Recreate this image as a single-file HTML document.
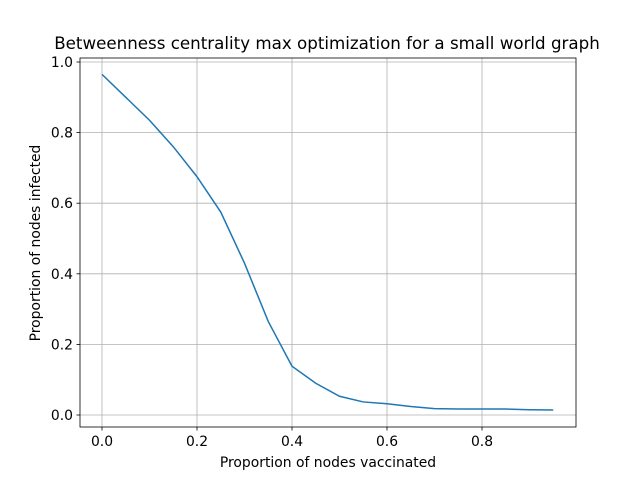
<!DOCTYPE html>
<html><head><meta charset="utf-8"><style>
body{margin:0;background:#fff;}
svg{font-family:"DejaVu Sans","Liberation Sans",sans-serif;}
</style></head><body>
<svg id="chart" width="640" height="480" xmlns="http://www.w3.org/2000/svg">
<rect width="640" height="480" fill="#fff"/>
<g id="grid"></g>
<g id="ticks"></g>
<path id="line" fill="none" stroke="#1f77b4" stroke-width="1.5"/>
<rect x="80" y="58" width="496" height="369" fill="none" stroke="#000" stroke-width="0.8"/>
<text x="327" y="49" font-size="16.7" text-anchor="middle">Betweenness centrality max optimization for a small world graph</text>
<text x="328" y="467" font-size="13.9" text-anchor="middle">Proportion of nodes vaccinated</text>
<text transform="translate(40,243) rotate(-90)" font-size="13.9" text-anchor="middle">Proportion of nodes infected</text>
</svg>
<script>
const xValues=[0,0.05,0.1,0.15,0.2,0.25,0.3,0.35,0.4,0.45,0.5,0.55,0.6,0.65,0.7,0.75,0.8,0.85,0.9,0.95];
const infected=[0.965,0.90,0.835,0.76,0.675,0.575,0.43,0.265,0.138,0.09,0.053,0.037,0.032,0.024,0.018,0.017,0.017,0.017,0.015,0.014];
const xTicks=[0,0.2,0.4,0.6,0.8];
const xTickLabels=["0.0","0.2","0.4","0.6","0.8"];
const yTicks=[0,0.2,0.4,0.6,0.8,1.0];
const yTickLabels=["0.0","0.2","0.4","0.6","0.8","1.0"];
const X=v=>102+v*475;
const Y=v=>415-v*353;
const ns="http://www.w3.org/2000/svg";
const grid=document.getElementById('grid'),ticks=document.getElementById('ticks');
function mk(tag,attrs,parent){const e=document.createElementNS(ns,tag);for(const k in attrs)e.setAttribute(k,attrs[k]);parent.appendChild(e);return e;}
xTicks.forEach((v,i)=>{
 const g=mk('line',{x1:X(v),x2:X(v),y1:58,y2:427,stroke:'#b0b0b0','stroke-width':0.8},grid);
 
 
 const t=mk('line',{x1:X(v),x2:X(v),y1:427,y2:430.5,stroke:'#000','stroke-width':0.8},ticks);
 
 
 const l=mk('text',{x:X(v),y:446,'font-size':13.9,'text-anchor':'middle'},ticks);
 l.textContent=xTickLabels[i];
 
 
});
yTicks.forEach((v,i)=>{
 const g=mk('line',{x1:80,x2:576,y1:Y(v),y2:Y(v),stroke:'#b0b0b0','stroke-width':0.8},grid);
 
 
 const t=mk('line',{x1:76.5,x2:80,y1:Y(v),y2:Y(v),stroke:'#000','stroke-width':0.8},ticks);
 
 
 const l=mk('text',{x:73,y:Y(v)+5,'font-size':13.9,'text-anchor':'end'},ticks);
 l.textContent=yTickLabels[i];
 
 
});
document.getElementById('line').setAttribute('d',xValues.map((x,i)=>(i?'L':'M')+X(x)+','+Y(infected[i])).join(''));
</script>
</body></html>
